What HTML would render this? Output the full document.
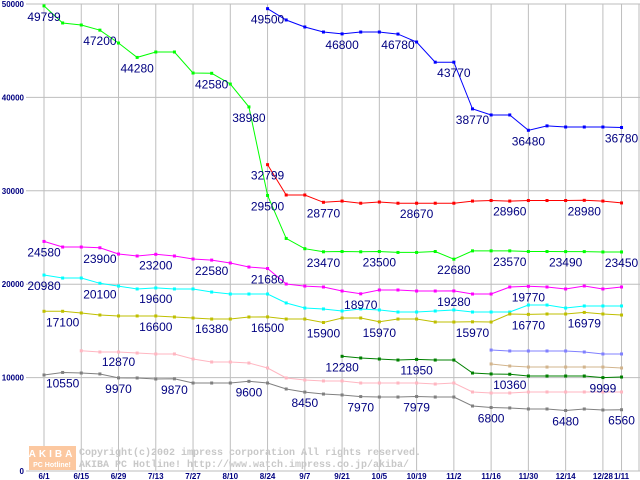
<!DOCTYPE html>
<html><head><meta charset="utf-8"><style>
html,body{margin:0;padding:0;background:#fff;}
svg{display:block;font-family:"Liberation Sans",sans-serif;}
</style></head><body>
<svg id="chart" width="640" height="480" xmlns="http://www.w3.org/2000/svg">
<g id="grid"></g>
<g id="wm">
 <rect x="29" y="446" width="47" height="24" fill="#fcc8a0"/>
 <text x="52" y="457" font-size="10" font-weight="bold" fill="#fff" text-anchor="middle" letter-spacing="3">AKIBA</text>
 <text x="52" y="467" font-size="7" font-weight="bold" fill="#fff" text-anchor="middle">PC Hotline!</text>
 <text x="79" y="455" font-size="10" font-family="Liberation Mono, monospace" fill="#c8c8c8" font-weight="bold">Copyright(c)2002 impress corporation All rights reserved.</text>
 <text x="79" y="467" font-size="10" font-family="Liberation Mono, monospace" fill="#c8c8c8" font-weight="bold">AKIBA PC Hotline!  http://www.watch.impress.co.jp/akiba/</text>
</g>
<g id="series"></g>
<g id="labels"></g>
</svg>
<script>
const NS="http://www.w3.org/2000/svg";
const xTicks=["6/1","6/15","6/29","7/13","7/27","8/10","8/24","9/7","9/21","10/5","10/19","11/2","11/16","11/30","12/14","12/28","1/11"];
const yTicks=[0,10000,20000,30000,40000,50000];
const greenStart=0;
const greenVals=[49799,47970,47750,47200,45820,44280,44860,44860,42610,42580,41430,38980,29500,24900,23800,23470,23500,23470,23500,23400,23400,23500,22680,23570,23570,23570,23500,23500,23490,23490,23450,23450];
const blueStart=12;
const blueVals=[49500,48290,47540,47000,46800,47000,47000,46780,45930,43770,43770,38770,38120,38120,36480,36950,36830,36830,36830,36780];
const redStart=12;
const redVals=[32799,29550,29550,28770,28900,28670,28800,28670,28670,28670,28670,28900,28960,28900,28960,28960,28960,28980,28900,28700];
const magentaStart=0;
const magentaVals=[24580,23980,23980,23900,23230,23020,23200,23020,22700,22580,22270,21840,21680,20020,19800,19700,19270,18970,19380,19380,19270,19270,19280,18950,18950,19700,19770,19700,19490,19810,19490,19700];
const cyanStart=0;
const cyanVals=[20980,20660,20660,20100,19800,19490,19600,19490,19490,19160,18950,18950,18950,17990,17450,17350,17130,17350,17240,17020,17020,17130,17240,17020,17020,17020,17770,17770,17450,17670,17670,17670];
const oliveStart=0;
const oliveVals=[17100,17100,16920,16700,16600,16600,16600,16490,16380,16270,16270,16490,16500,16270,16270,15900,16380,16380,15970,16270,16270,15950,15950,15970,15950,16810,16770,16810,16810,16979,16810,16700];
const pinkStart=2;
const pinkVals=[12870,12740,12740,12630,12530,12530,11990,11670,11670,11560,11030,9960,9740,9640,9640,9420,9420,9420,9420,9310,9420,8460,8350,8350,8460,8460,8460,8460,8460,8460];
const grayStart=0;
const grayVals=[10280,10550,10490,10390,9970,9960,9850,9870,9420,9420,9420,9600,9420,8780,8450,8240,8140,7970,7920,7920,7979,7920,7920,6960,6800,6750,6640,6640,6480,6640,6530,6560];
const dgreenStart=16;
const dgreenVals=[12280,12100,11990,11880,11950,11880,11880,10490,10390,10360,10170,10170,10170,10170,9999,10060];
const periStart=24;
const periVals=[12950,12850,12850,12850,12850,12740,12530,12530];
const tanStart=24;
const tanVals=[11460,11240,11130,11130,11130,11130,11130,11030];
const labelTexts=["49799","47200","44280","42580","38980","29500","23470","23500","22680","23570","23490","23450",
"49500","46800","46780","43770","38770","36480","36780",
"32799","28770","28670","28960","28980",
"24580","23900","23200","22580","21680","18970","19280","19770",
"20980","20100","19600",
"17100","16600","16380","16500","15900","15970","15970","16770","16979",
"12870","12280","11950","10360","9999",
"10550","9970","9870","9600","8450","7970","7979","6800","6480","6560"];
const labelIdx=[0,3,5,9,11,12,15,18,22,25,28,31, 12,16,19,22,23,26,31, 12,15,20,25,29, 0,3,6,9,12,17,22,26, 0,3,6, 1,6,9,12,15,18,23,26,29, 4,16,20,25,30, 1,4,7,11,14,17,20,24,28,31];
const labelVal=[49799,47200,44280,42580,38980,29500,23470,23500,22680,23570,23490,23450, 49500,46800,46780,43770,38770,36480,36780, 32799,28770,28670,28960,28980, 24580,23900,23200,22580,21680,18970,19280,19770, 20980,20100,19600, 17100,16600,16380,16500,15900,15970,15970,16770,16979, 12870,12280,11950,10360,9999, 10550,9970,9870,9600,8450,7970,7979,6800,6480,6560];

const X=i=>44+i*18.63;
const Y=v=>471-v*0.00934;
function el(tag,attrs,parent){const e=document.createElementNS(NS,tag);for(const k in attrs)e.setAttribute(k,attrs[k]);parent.appendChild(e);return e;}
const grid=document.getElementById('grid');
yTicks.forEach((t,k)=>{
 const l=el('line',{x1:26,x2:640,y1:Y(t),y2:Y(t),stroke:'#bebebe','stroke-width':1},grid);
 
 
 const tx=el('text',{x:24,y:Y(t)+3,'font-size':8,'font-weight':'bold',fill:'#000080','text-anchor':'end'},grid);
 tx.textContent=t;
 
 
});
xTicks.forEach((t,k)=>{
 const i=k<16?k*2:31;
 const l=el('line',{x1:X(i),x2:X(i),y1:4,y2:471,stroke:'#bebebe','stroke-width':1},grid);
 
 
 const tx=el('text',{x:X(i),y:479,'font-size':8,'font-weight':'bold',fill:'#000080','text-anchor':'middle'},grid);
 tx.textContent=t;
 
 
});
const rb=el('line',{x1:639,x2:639,y1:4,y2:471,stroke:'#bebebe'},grid);



const seriesG=document.getElementById('series');
const defs=[["green",greenStart,greenVals,"#00ff00"],["blue",blueStart,blueVals,"#0000ff"],["red",redStart,redVals,"#ff0000"],["magenta",magentaStart,magentaVals,"#ff00ff"],["cyan",cyanStart,cyanVals,"#00ffff"],["olive",oliveStart,oliveVals,"#bfbf00"],["pink",pinkStart,pinkVals,"#ffb6c1"],["gray",grayStart,grayVals,"#808080"],["darkgreen",dgreenStart,dgreenVals,"#008000"],["periwinkle",periStart,periVals,"#8080ff"],["tan",tanStart,tanVals,"#d2b48c"]];
defs.forEach(([n,s,vals,c])=>{
 const pts=vals.map((v,j)=>X(s+j).toFixed(1)+","+Y(v).toFixed(1)).join(" ");
 const pl=el('polyline',{points:pts,fill:'none',stroke:c,'stroke-width':1},seriesG);
 
 
 vals.forEach((v,j)=>{
  const r=el('rect',{x:X(s+j)-1.5,y:Y(v)-1.5,width:3,height:3,fill:c},seriesG);
  
  
 });
});
const lg=document.getElementById('labels');
labelTexts.forEach((t,k)=>{
 const tx=el('text',{x:X(labelIdx[k]),y:Y(labelVal[k])+15,'font-size':12,fill:'#000080','text-anchor':'middle'},lg);
 tx.textContent=t;
 
 
});
</script>
</body></html>
